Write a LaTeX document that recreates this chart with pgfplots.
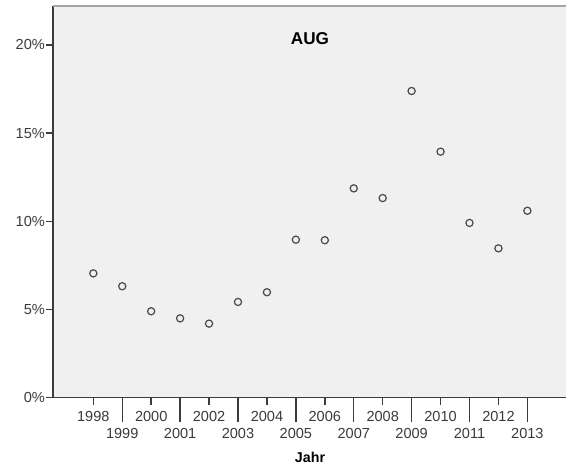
\documentclass[border=0pt]{standalone}
\usepackage{pgfplots}
\pgfplotsset{compat=1.18}
\usepackage{fontspec}
\setmainfont{Liberation Sans}

\definecolor{plotbg}{HTML}{F0F0F0}
\definecolor{axisdark}{HTML}{3C3C3C}
\definecolor{labelgray}{HTML}{3A3A3A}
\definecolor{markgray}{HTML}{4A4A4A}

\begin{document}
\begin{tikzpicture}
\useasboundingbox (-53bp,-71.3bp) rectangle (513bp,397.7bp);
\begin{axis}[
  at={(0,0)}, anchor=south west,
  scale only axis,
  width=513bp, height=391.7bp,
  xmin=1996.607, xmax=2014.335,
  ymin=0, ymax=22.21,
  axis x line*=bottom, axis y line*=left,
  axis line style={axisdark, line width=1.4bp, -},
  axis background/.style={fill=plotbg},
  tick align=outside,
  major tick length=7bp,
  tick style={axisdark, line width=1.4bp},
  ytick={0,5,10,15,20},
  yticklabel={\pgfmathprintnumber{\tick}\%},
  yticklabel style={font=\fontsize{14.6}{16}\selectfont, text=labelgray, inner sep=1bp},
  xtick={1998,2000,...,2012},
  xticklabel style={font=\fontsize{14.6}{16}\selectfont, text=labelgray, inner sep=2bp, yshift=-4bp, /pgf/number format/1000 sep={}},
  extra x ticks={1999,2001,...,2013},
  extra x tick style={major tick length=24bp},
  /pgf/number format/assume math mode=true,
  clip=false,
]
\draw[gray!70, line width=1.2bp] (rel axis cs:0,1) -- (rel axis cs:1,1);
\addplot[only marks, mark=o, mark size=3.6bp, mark options={draw=markgray, line width=1.2bp}] coordinates {
  (1998,7.05) (1999,6.32) (2000,4.90) (2001,4.50) (2002,4.20)
  (2003,5.43) (2004,5.98) (2005,8.96) (2006,8.93) (2007,11.87)
  (2008,11.32) (2009,17.39) (2010,13.95) (2011,9.91) (2012,8.47)
  (2013,10.60)
};
\node[font=\bfseries\fontsize{17.2}{19}\selectfont] at (rel axis cs:0.501,0.918) {AUG};
\node[font=\bfseries\fontsize{14.3}{16}\selectfont] at (rel axis cs:0.501,-0.153) {Jahr};
\end{axis}
\end{tikzpicture}
\end{document}
